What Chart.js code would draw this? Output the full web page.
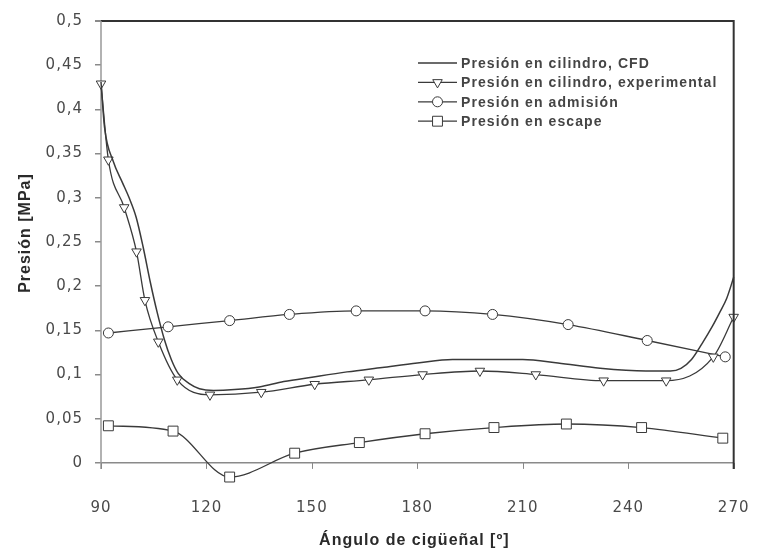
<!DOCTYPE html>
<html><head><meta charset="utf-8">
<style>html,body{margin:0;padding:0;background:#fff;}#wrap{width:762px;height:556px;}</style>
<script src="https://cdn.jsdelivr.net/npm/chart.js@4.4.1/dist/chart.umd.min.js"></script>
</head><body><div id="wrap"><canvas id="c" width="762" height="556"></canvas></div>
<script>
// ---- data ----
const xTicks = [90, 120, 150, 180, 210, 240, 270];
const yTicks = [0, 0.05, 0.1, 0.15, 0.2, 0.25, 0.3, 0.35, 0.4, 0.45, 0.5];
const seriesLabels = ['Presión en cilindro, CFD', 'Presión en cilindro, experimental', 'Presión en admisión', 'Presión en escape'];
const xTitle = 'Ángulo de cigüeñal [º]';
const yTitle = 'Presión [MPa]';

const cfdAngle    = [90, 91, 93.5, 96, 98, 100, 102, 104, 106, 108, 110, 112, 115, 118, 122, 128, 135, 142, 150, 160, 170, 180, 190, 200, 210, 220, 232, 245, 252, 255, 258, 261, 264, 266, 268, 270];
const cfdPressure = [0.431, 0.38, 0.341, 0.318, 0.30, 0.278, 0.244, 0.205, 0.17, 0.14, 0.117, 0.101, 0.09, 0.084, 0.082, 0.083, 0.086, 0.092, 0.097, 0.103, 0.108, 0.113, 0.117, 0.117, 0.117, 0.113, 0.107, 0.104, 0.104, 0.107, 0.117, 0.135, 0.155, 0.170, 0.186, 0.210];

const expAngle    = [90, 92.1, 96.6, 100.1, 102.5, 106.3, 111.7, 121, 135.6, 150.8, 166.2, 181.5, 197.8, 213.7, 233, 250.8, 264.2, 270];
const expPressure = [0.429, 0.343, 0.289, 0.239, 0.184, 0.137, 0.094, 0.077, 0.080, 0.089, 0.094, 0.100, 0.104, 0.100, 0.093, 0.093, 0.120, 0.165];

const admAngle    = [92.1, 109.1, 126.6, 143.6, 162.6, 182.2, 201.4, 222.9, 245.4, 267.6];
const admPressure = [0.147, 0.154, 0.161, 0.168, 0.172, 0.172, 0.168, 0.1565, 0.1385, 0.120];

const escAngle    = [92.1, 110.5, 126.6, 145.1, 163.5, 182.2, 201.8, 222.4, 243.8, 266.9];
const escPressure = [0.042, 0.036, -0.016, 0.011, 0.023, 0.033, 0.040, 0.044, 0.040, 0.028];

// ---- chart ----
const pts = (xs, ys) => xs.map((x, i) => ({x: x, y: ys[i]}));
const LINE = '#3a3a3a';
const TICKFONT = {family: '"DejaVu Sans", sans-serif', size: 15};
const AXIS_END = -0.007;   // where the drawn axis frame stops below zero

const common = {borderColor: LINE, borderWidth: 1.3, cubicInterpolationMode: 'monotone', fill: false, clip: false,
  pointBackgroundColor: '#fff', pointBorderColor: LINE, pointBorderWidth: 1, pointHoverRadius: 0};

const datasets = [
  Object.assign({}, common, {label: seriesLabels[0], data: pts(cfdAngle, cfdPressure), pointRadius: 0, borderWidth: 1.5}),
  Object.assign({}, common, {label: seriesLabels[1], data: pts(expAngle, expPressure), pointStyle: 'triangle', pointRotation: 180, pointRadius: 5.5}),
  Object.assign({}, common, {label: seriesLabels[2], data: pts(admAngle, admPressure), pointStyle: 'circle', pointRadius: 5}),
  Object.assign({}, common, {label: seriesLabels[3], data: pts(escAngle, escPressure), pointStyle: 'rect', pointRadius: 7})
];

const decorations = {
  id: 'decorations',
  beforeDraw(chart) {
    const ctx = chart.ctx;
    ctx.save(); ctx.fillStyle = '#fff'; ctx.fillRect(0, 0, chart.width, chart.height); ctx.restore();
    try { ctx.letterSpacing = '1px'; } catch (e) {}
  },
  beforeDatasetsDraw(chart) {
    const ctx = chart.ctx, a = chart.chartArea, ys = chart.scales.y, xs = chart.scales.x;
    const yEnd = ys.getPixelForValue(AXIS_END);
    ctx.save();
    ctx.strokeStyle = '#999'; ctx.lineWidth = 1.5;
    ctx.beginPath(); ctx.moveTo(a.left, a.top); ctx.lineTo(a.left, yEnd); ctx.stroke();
    const y0 = ys.getPixelForValue(0);
    ctx.strokeStyle = '#888'; ctx.lineWidth = 1;
    xTicks.forEach(t => {
      const px = Math.round(xs.getPixelForValue(t)) + 0.5;
      ctx.beginPath(); ctx.moveTo(px, y0); ctx.lineTo(px, y0 + 6); ctx.stroke();
    });
    ctx.restore();
  },
  afterDraw(chart) {
    const ctx = chart.ctx, a = chart.chartArea, ys = chart.scales.y;
    ctx.save();
    ctx.strokeStyle = '#333'; ctx.lineWidth = 2;
    ctx.beginPath(); ctx.moveTo(a.right, a.top - 1); ctx.lineTo(a.right, ys.getPixelForValue(AXIS_END)); ctx.stroke();
    try { ctx.letterSpacing = '1px'; } catch (e) {}
    ctx.fillStyle = '#2a2a2a';
    ctx.font = 'bold 16px "Liberation Sans", Arial, sans-serif';
    ctx.textAlign = 'center'; ctx.textBaseline = 'middle';
    ctx.fillText(xTitle, (a.left + a.right) / 2 - 3, 541);
    ctx.save();
    ctx.translate(26, 233);
    ctx.rotate(-Math.PI / 2);
    ctx.fillText(yTitle, 0, 0);
    ctx.restore();
    try { ctx.letterSpacing = '1.1px'; } catch (e) {}
    ctx.font = 'bold 14px "Liberation Sans", Arial, sans-serif';
    ctx.textAlign = 'left'; ctx.textBaseline = 'middle';
    chart.data.datasets.forEach((ds, i) => {
      const ly = 63 + i * 19.4;
      const x0 = 418, x1 = 457;
      ctx.strokeStyle = LINE; ctx.lineWidth = 1.3;
      ctx.beginPath(); ctx.moveTo(x0, ly); ctx.lineTo(x1, ly); ctx.stroke();
      if (ds.pointRadius > 0) {
        ctx.fillStyle = '#fff'; ctx.strokeStyle = LINE; ctx.lineWidth = 1;
        Chart.helpers.drawPoint(ctx, {pointStyle: ds.pointStyle, rotation: ds.pointRotation || 0,
          radius: ds.pointRadius, borderWidth: 1}, (x0 + x1) / 2, ly);
      }
      ctx.fillStyle = '#444';
      ctx.fillText(ds.label, 461, ly + 1);
    });
    ctx.restore();
  }
};

new Chart(document.getElementById('c'), {
  type: 'line',
  data: {datasets: datasets},
  options: {
    responsive: false, animation: false,
    layout: {padding: {left: 0, right: 27, top: 19, bottom: 0}},
    plugins: {legend: {display: false}, tooltip: {enabled: false}},
    scales: {
      x: {
        type: 'linear', min: 90, max: 270,
        afterBuildTicks: s => { s.ticks = xTicks.map(v => ({value: v})); },
        afterFit: s => { s.height = 71; },
        grid: {display: false, drawTicks: false},
        border: {display: false},
        ticks: {font: TICKFONT, color: '#4a4a4a', padding: 14, maxRotation: 0, autoSkip: false}
      },
      y: {
        type: 'linear', min: -0.025, max: 0.5,
        afterBuildTicks: s => { s.ticks = yTicks.map(v => ({value: v})); },
        afterFit: s => { s.width = 101; },
        grid: {
          drawOnChartArea: true, drawTicks: true, tickLength: 6, tickColor: '#8a8a8a',
          color: c => (c.tick && c.tick.value === 0) ? '#8a8a8a' : (c.tick && c.tick.value === 0.5 ? '#333' : 'rgba(0,0,0,0)'),
          lineWidth: c => (c.tick && c.tick.value === 0.5) ? 2 : 1.5
        },
        border: {display: false},
        ticks: {font: TICKFONT, color: '#4a4a4a', padding: 12, autoSkip: false,
          callback: v => String(v).replace('.', ',')}
      }
    }
  },
  plugins: [decorations]
});
</script>
</body></html>
